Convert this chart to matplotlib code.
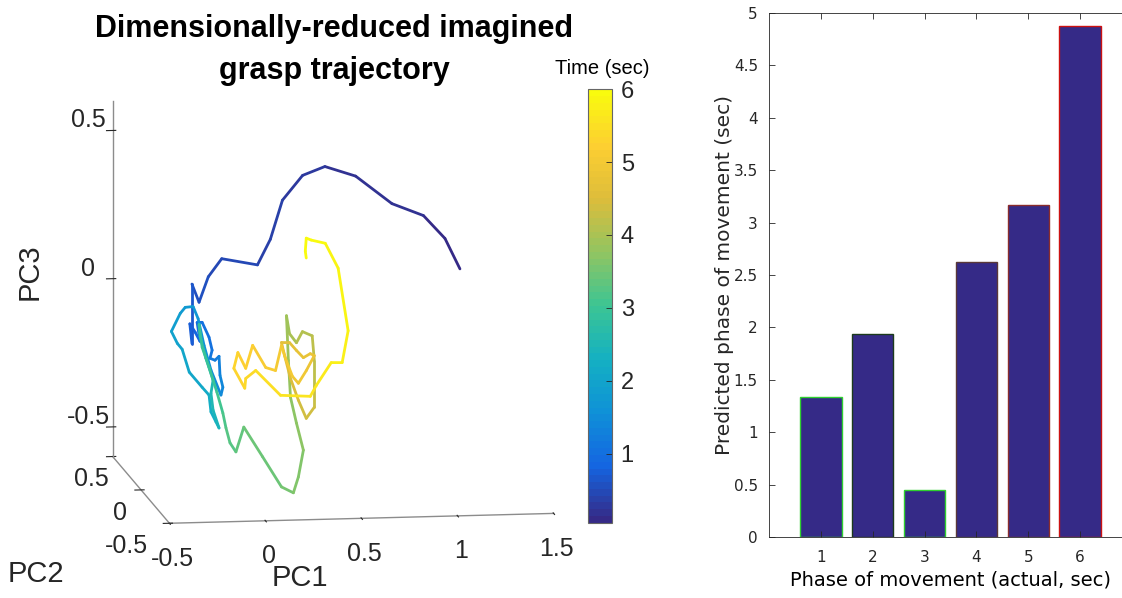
import numpy as np
import matplotlib
matplotlib.use("Agg")
import matplotlib.pyplot as plt
from matplotlib.colors import LinearSegmentedColormap, Normalize
from matplotlib.cm import ScalarMappable
from mpl_toolkits.mplot3d.art3d import Line3DCollection

plt.rcParams['axes.unicode_minus'] = False

# ---------------- data: imagined grasp trajectory (PC space) ----------------
pc1 = [1.160, 1.082, 0.970, 0.806, 0.617, 0.457, 0.341, 0.236, 0.173, 0.106,
       -0.080, -0.150, -0.198, -0.235, -0.235, -0.246, -0.218, -0.193, -0.208, -0.182,
       -0.146, -0.130, -0.141, -0.115, -0.094, -0.089, -0.074, -0.084, -0.136, -0.172,
       -0.203, -0.229, -0.270, -0.296, -0.342, -0.311, -0.286, -0.249, -0.182, -0.146,
       -0.136, -0.110, -0.094, -0.125, -0.136, -0.125, -0.162, -0.193, -0.198, -0.182,
       -0.146, -0.105, -0.074, -0.058, -0.037, -0.006, 0.035, 0.133, 0.231, 0.293,
       0.319, 0.345, 0.309, 0.278, 0.267, 0.257, 0.273, 0.309, 0.340, 0.391,
       0.402, 0.402, 0.402, 0.360, 0.319, 0.278, 0.247, 0.231, 0.273, 0.309,
       0.345, 0.381, 0.402, 0.360, 0.319, 0.288, 0.252, 0.231, 0.200, 0.149,
       0.081, 0.045, 0.004, -0.017, 0.040, 0.045, 0.097, 0.226, 0.381, 0.412,
       0.490, 0.547, 0.578, 0.526, 0.459, 0.386, 0.360, 0.355, 0.360]
pc2 = [0.0] * len(pc1)
pc3 = [0.118, 0.222, 0.301, 0.344, 0.440, 0.475, 0.447, 0.365, 0.234, 0.149,
       0.173, 0.113, 0.028, 0.090, -0.111, -0.044, -0.073, -0.104, -0.040, -0.040,
       -0.091, -0.135, -0.162, -0.169, -0.156, -0.220, -0.261, -0.287, -0.202, -0.118,
       -0.027, 0.014, 0.012, -0.008, -0.068, -0.109, -0.129, -0.207, -0.259, -0.286,
       -0.343, -0.377, -0.398, -0.337, -0.280, -0.236, -0.162, -0.087, -0.047, -0.124,
       -0.192, -0.277, -0.348, -0.398, -0.449, -0.480, -0.397, -0.499, -0.602, -0.623,
       -0.570, -0.480, -0.388, -0.301, -0.176, -0.025, -0.086, -0.117, -0.080, -0.095,
       -0.179, -0.263, -0.336, -0.373, -0.311, -0.237, -0.159, -0.115, -0.116, -0.143,
       -0.168, -0.155, -0.162, -0.212, -0.254, -0.230, -0.169, -0.125, -0.209, -0.198,
       -0.122, -0.199, -0.145, -0.198, -0.266, -0.233, -0.207, -0.293, -0.299, -0.263,
       -0.187, -0.188, -0.081, 0.131, 0.216, 0.228, 0.235, 0.191, 0.168]
time_sec = [0.05, 0.09, 0.13, 0.17, 0.21, 0.25, 0.29, 0.33, 0.37, 0.41,
            0.46, 0.51, 0.56, 0.62, 0.68, 0.74, 0.80, 0.86, 0.92, 0.98,
            1.04, 1.10, 1.16, 1.22, 1.28, 1.34, 1.40, 1.46, 1.52, 1.58,
            1.64, 1.70, 1.76, 1.82, 1.88, 1.94, 2.00, 2.06, 2.12, 2.18,
            2.24, 2.30, 2.36, 2.44, 2.52, 2.60, 2.68, 2.76, 2.82, 2.90,
            2.98, 3.06, 3.14, 3.20, 3.26, 3.32, 3.38, 3.45, 3.52, 3.58,
            3.63, 3.68, 3.73, 3.78, 3.84, 3.90, 3.96, 4.02, 4.08, 4.14,
            4.20, 4.26, 4.32, 4.38, 4.44, 4.50, 4.56, 4.60, 4.65, 4.70,
            4.75, 4.80, 4.84, 4.88, 4.92, 4.96, 5.00, 5.04, 5.08, 5.13,
            5.18, 5.22, 5.26, 5.30, 5.35, 5.39, 5.44, 5.52, 5.60, 5.65,
            5.71, 5.76, 5.82, 5.88, 5.92, 5.95, 5.97, 5.99, 6.00]

pc1_ticks = [-0.5, 0, 0.5, 1, 1.5]
pc2_ticks = [-0.5, 0, 0.5]
pc3_ticks = [-0.5, 0, 0.5]
pc1_labels = ['-0.5', '0', '0.5', '1', '1.5']
pc2_labels = ['-0.5', '0', '0.5']
pc3_labels = ['-0.5', '0', '0.5']
cbar_ticks = [1, 2, 3, 4, 5, 6]

# ---------------- data: bar chart ----------------
phase_actual = [1, 2, 3, 4, 5, 6]
phase_predicted = [1.34, 1.94, 0.45, 2.62, 3.17, 4.88]
bar_edges = ['#2fd02f', '#1c3a1c', '#2fd02f', '#5a3838', '#8a2c2c', '#cc1111']
bar_yticks = [0, 0.5, 1, 1.5, 2, 2.5, 3, 3.5, 4, 4.5, 5]
bar_ylabels = ['0', '0.5', '1', '1.5', '2', '2.5', '3', '3.5', '4', '4.5', '5']

# parula-like colormap
parula_pts = [(0.2081, 0.1663, 0.5292), (0.0795, 0.3961, 0.8840), (0.0590, 0.5669, 0.8453),
              (0.0786, 0.6923, 0.7617), (0.2336, 0.7706, 0.5790), (0.5675, 0.7724, 0.3817),
              (0.8651, 0.7395, 0.2301), (0.9926, 0.8122, 0.1927), (0.9763, 0.9831, 0.0538)]
parula = LinearSegmentedColormap.from_list('parula', parula_pts, N=64)
norm = Normalize(vmin=0.05, vmax=6)

W, H = 1122, 598
fig = plt.figure(figsize=(W / 100, H / 100), dpi=100)
SANS = 'Liberation Sans'
TXT = '#262626'

# ---------------- 3D trajectory ----------------
ax = fig.add_axes([-0.0097, 0.014, 0.6, 0.92], projection='3d', proj_type='ortho')
pts = np.column_stack([pc1, pc2, pc3])
segs = np.stack([pts[:-1], pts[1:]], axis=1)
tmid = (np.array(time_sec[:-1]) + np.array(time_sec[1:])) / 2
lc = Line3DCollection(segs, cmap=parula, norm=norm, linewidths=2.0, capstyle='round')
lc.set_array(tmid)
ax.add_collection3d(lc)
ax.set_xlim(-0.5, 1.5)
ax.set_ylim(-0.5, 0.5)
ax.set_zlim(-0.6, 0.6)
ax.view_init(elev=10, azim=-98.4)
ax.set_box_aspect((1, 1, 0.93), zoom=1.16)
ax.grid(False)
for axis in (ax.xaxis, ax.yaxis, ax.zaxis):
    axis.set_pane_color((1, 1, 1, 0))
    axis.pane.set_edgecolor((1, 1, 1, 0))
    axis.line.set_color('0.55')
    axis.line.set_linewidth(1.0)
ax.set_xticks(pc1_ticks)
ax.set_yticks(pc2_ticks)
ax.set_zticks(pc3_ticks)
ax.set_xticklabels(pc1_labels)
ax.set_yticklabels(pc2_labels)
ax.set_zticklabels(pc3_labels)
ax.tick_params(labelsize=18, colors=TXT)
for lab in ax.get_xticklabels() + ax.get_yticklabels() + ax.get_zticklabels():
    lab.set_family(SANS)
for lab, ha in zip(ax.get_yticklabels(), ['right', 'center', 'center']):
    lab.set_ha(ha)
    lab.set_va('center_baseline')
for lab in ax.get_zticklabels():
    lab.set_va('baseline')
ax.set_xlabel('')
ax.set_ylabel('')
ax.set_zlabel('')

fig.text(300 / W, 1 - 578 / H, 'PC1', ha='center', va='center', fontsize=21, color=TXT, family=SANS)
fig.text(36 / W, 1 - 574 / H, 'PC2', ha='center', va='center', fontsize=21, color=TXT, family=SANS)
fig.text(30 / W, 1 - 272 / H, 'PC3', ha='center', va='center', fontsize=21, color=TXT,
         family=SANS, rotation=90)

fig.text(334 / W, 1 - 29 / H, 'Dimensionally-reduced imagined', ha='center', va='center',
         fontsize=22, fontweight='bold', family=SANS)
fig.text(334 / W, 1 - 71 / H, 'grasp trajectory', ha='center', va='center',
         fontsize=22, fontweight='bold', family=SANS)

# colorbar
cax = fig.add_axes([588 / W, 1 - 522.7 / H, 24.4 / W, 433.4 / H])
cb = fig.colorbar(ScalarMappable(norm=norm, cmap=parula), cax=cax, ticks=cbar_ticks)
cb.outline.set_edgecolor('0.4')
cb.outline.set_linewidth(0.8)
cax.tick_params(labelsize=17, colors=TXT, direction='in', length=4, width=0.6, pad=6)
for lab in cax.get_yticklabels():
    lab.set_family(SANS)
fig.text(602 / W, 1 - 68 / H, 'Time (sec)', ha='center', va='center', fontsize=14.5,
         family=SANS, color='black')

# ---------------- bar chart ----------------
bx = fig.add_axes([769 / W, 1 - 537 / H, 363 / W, 524 / H])
bars = bx.bar(phase_actual, phase_predicted, width=0.8, color='#352a87',
              edgecolor=bar_edges, linewidth=1.0)
bx.set_xlim(0, 7)
bx.set_ylim(0, 5)
bx.set_xticks(phase_actual)
bx.set_yticks(bar_yticks)
bx.set_yticklabels(bar_ylabels)
bx.tick_params(direction='in', length=4, width=0.6, top=True, right=True,
               labelsize=11, colors=TXT)
bx.tick_params(axis='x', pad=9)
bx.tick_params(axis='y', pad=8)
for sp in bx.spines.values():
    sp.set_color(TXT)
    sp.set_linewidth(0.6)
bx.set_xlabel('Phase of movement (actual, sec)', fontsize=14, color='black', labelpad=4)
bx.set_ylabel('Predicted phase of movement (sec)', fontsize=14.5, color=TXT, labelpad=0)

fig.savefig('out.png', dpi=100)
